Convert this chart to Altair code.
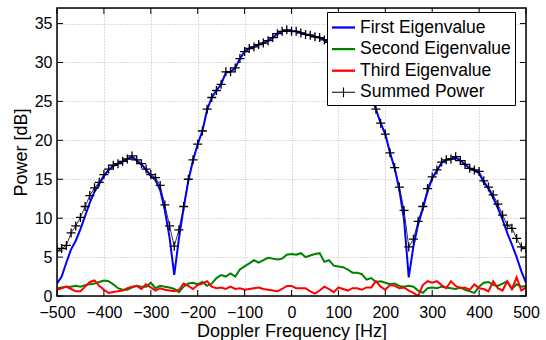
import altair as alt
import pandas as pd

# ---------------- data ----------------
freqs = list(range(-500, 501, 10))

first_eig = [
    1.6, 2.5, 4.3, 6.0, 7.1, 8.6, 10.3, 12.0, 13.4, 14.4,
    15.4, 16.2, 16.7, 17.0, 17.3, 17.6, 17.9, 17.4, 16.9, 16.2,
    15.4, 14.9, 13.6, 11.0, 7.5, 2.7, 7.4, 11.3, 14.8, 17.4,
    19.5, 21.2, 23.9, 25.5, 26.4, 27.2, 28.7, 28.8, 29.3, 30.5,
    31.4, 31.8, 32.0, 32.3, 32.5, 32.8, 33.2, 33.7, 34.0, 34.1,
    34.0, 34.0, 33.8, 33.6, 33.5, 33.3, 33.2, 32.9, 32.6, 32.3,
    32.0, 31.5, 30.7, 29.8, 28.8, 27.8, 26.8, 25.6, 24.0, 22.2,
    20.8, 18.4, 16.4, 13.6, 9.8, 2.4, 6.4, 9.2, 11.2, 13.4,
    15.1, 16.1, 17.1, 17.5, 17.6, 17.8, 17.4, 16.9, 16.4, 16.1,
    15.8, 14.6, 13.8, 12.6, 11.3, 9.8, 8.1, 6.6, 5.0, 3.2,
    1.7,
]

second_eig = [
    1.0, 1.1, 1.2, 1.2, 1.3, 1.2, 1.4, 1.5, 1.6, 1.8,
    2.0, 1.9, 1.5, 1.0, 0.8, 0.8, 1.1, 1.3, 1.2, 1.2,
    1.7, 1.0, 1.3, 1.2, 1.1, 0.9, 0.5, 1.2, 1.6, 1.7,
    1.5, 1.8, 1.3, 1.6, 2.3, 2.7, 2.5, 2.9, 2.5, 3.4,
    3.8, 4.2, 4.6, 4.3, 4.6, 4.9, 4.8, 4.7, 4.8, 5.3,
    5.4, 5.3, 5.5, 5.0, 5.2, 5.4, 5.5, 4.4, 4.6, 3.9,
    3.8, 3.7, 3.4, 3.0, 3.0, 2.8, 2.1, 2.3, 1.8, 1.9,
    1.7, 1.5, 1.6, 1.3, 1.2, 1.3, 1.2, 0.7, 0.4, 1.0,
    1.1, 1.0, 1.2, 1.1, 1.0, 0.9, 1.1, 0.8, 0.6, 0.4,
    1.2, 1.7, 1.8, 1.4, 1.3, 1.6, 1.9, 0.9, 1.5, 1.2,
    1.3,
]

third_eig = [
    0.8, 1.0, 1.2, 0.9, 0.6, 0.6, 1.2, 1.8, 2.0, 1.3,
    0.8, 0.4, 0.5, 0.6, 0.7, 1.0, 1.2, 1.3, 0.9, 1.5,
    1.1, 0.7, 1.0, 0.8, 0.7, 0.6, 0.8, 1.6, 1.3, 0.9,
    1.4, 1.6, 1.9, 1.2, 1.0, 1.1, 0.9, 1.2, 0.9, 1.0,
    0.8, 0.9, 1.0, 1.1, 0.9, 0.8, 0.7, 0.6, 0.9, 1.3,
    1.3, 1.0, 1.0, 1.0, 0.6, 0.3, 0.7, 1.2, 0.9, 0.5,
    1.1, 0.9, 0.7, 1.0, 1.0, 0.8, 1.1, 1.1, 1.9, 1.2,
    0.8, 1.4, 1.3, 1.0, 1.1, 0.7, 0.4, 0.0, 1.4, 1.9,
    1.7, 1.9, 1.4, 1.0, 1.9, 1.3, 1.0, 1.1, 0.8, 1.5,
    1.0, 0.9, 0.6, 1.9, 1.0, 0.7, 1.9, 0.9, 2.4, 0.7,
    1.1,
]

summed_power = [
    5.8, 6.1, 6.5, 8.1, 9.0, 10.1, 11.5, 12.9, 13.9, 14.6,
    15.6, 16.3, 16.8, 17.0, 17.3, 17.6, 18.0, 17.5, 17.0, 16.3,
    15.6, 15.2, 14.2, 11.7, 9.0, 6.4, 8.5, 11.5, 15.0, 17.5,
    19.5, 21.2, 24.0, 25.5, 26.4, 27.2, 28.8, 28.8, 29.3, 30.5,
    31.4, 31.8, 32.0, 32.3, 32.5, 32.8, 33.2, 33.7, 34.0, 34.2,
    34.0, 34.0, 33.8, 33.6, 33.5, 33.3, 33.2, 32.9, 32.6, 32.3,
    32.0, 31.5, 30.7, 29.8, 28.8, 27.8, 26.8, 25.6, 24.0, 22.2,
    20.8, 18.4, 16.5, 14.0, 11.0, 6.3, 7.3, 9.6, 11.5, 13.8,
    15.3, 16.2, 17.2, 17.5, 17.6, 17.9, 17.4, 16.9, 16.4, 16.2,
    16.0, 14.8, 14.0, 13.0, 11.8, 10.4, 9.1, 8.7, 7.4, 6.3,
    6.1,
]

series_names = ["First Eigenvalue", "Second Eigenvalue", "Third Eigenvalue", "Summed Power"]
series_colors = ["#0000ff", "#008000", "#ff0000", "#000000"]
# legend glyphs (filled outlines): thick bar for eigenvalues, thin bar with "+" for summed power
BAR = "M-1,-0.1L1,-0.1L1,0.1L-1,0.1Z"
PLUS_BAR = ("M-1,-0.045L-0.05,-0.045L-0.05,-0.42L0.05,-0.42L0.05,-0.045L1,-0.045"
            "L1,0.045L0.05,0.045L0.05,0.42L-0.05,0.42L-0.05,0.045L-1,0.045Z")
legend_shapes = [BAR, BAR, BAR, PLUS_BAR]
x_ticks = list(range(-500, 501, 100))
y_ticks = list(range(0, 36, 5))

# ---------------- tables ----------------
rows = []
for name, vals in zip(series_names, [first_eig, second_eig, third_eig, summed_power]):
    for f, v in zip(freqs, vals):
        rows.append({"freq": f, "series": name, "power": v})
df = pd.DataFrame(rows)

FONT = "Liberation Sans"
X0, X1, Y0, Y1 = -500, 500, 0, 37
TX = (X1 - X0) * 6 / 469.0   # 6 px inward tick length in data units
TY = (Y1 - Y0) * 6 / 288.0
xt = pd.DataFrame({"freq": x_ticks, "b0": Y0, "b1": Y0 + TY, "u0": Y1, "u1": Y1 - TY})
yt = pd.DataFrame({"power": y_ticks, "l0": X0, "l1": X0 + TX, "r0": X1, "r1": X1 - TX})
frame_df = pd.DataFrame({"fx0": [X0], "fx1": [X1], "fy0": [Y0], "fy1": [Y1]})

xscale = alt.Scale(domain=[X0, X1], nice=False, zero=False)
yscale = alt.Scale(domain=[Y0, Y1], nice=False, zero=False)
color_scale = alt.Scale(domain=series_names, range=series_colors)
shape_scale = alt.Scale(domain=series_names, range=legend_shapes)

grid_kw = dict(grid=True, gridColor="#b8b8b8", gridDash=[1, 2], gridWidth=1,
               ticks=False, domain=False, labelFont=FONT, titleFont=FONT,
               labelColor="black", titleColor="black", titleFontWeight="normal")
xaxis = alt.Axis(values=x_ticks, title="Doppler Frequency [Hz]", labelFontSize=16,
                 titleFontSize=18, labelPadding=8, titlePadding=2, labelFlush=False,
                 **grid_kw)
yaxis = alt.Axis(values=y_ticks, title="Power [dB]", labelFontSize=16,
                 titleFontSize=18, labelPadding=5, titlePadding=4, **grid_kw)

leg = alt.Legend(
    title=None, orient="none", legendX=270, legendY=4,
    fillColor="white", strokeColor="black", padding=4, rowPadding=1.6,
    labelFont=FONT, labelFontSize=17.5, labelColor="black", labelOffset=5,
    symbolSize=529, symbolStrokeWidth=0, symbolOffset=1,
)


def X(field):
    return alt.X(field, scale=xscale, axis=xaxis)


def Y(field):
    return alt.Y(field, scale=yscale, axis=yaxis)


def series_df(name):
    return df[df["series"] == name]


summed_line = alt.Chart(series_df("Summed Power")).mark_line(
    color="black", strokeWidth=0.8, clip=True
).encode(x=X("freq:Q"), y=Y("power:Q"))

eig_layers = [
    alt.Chart(series_df(n)).mark_line(color=c, strokeWidth=2, clip=True).encode(
        x=X("freq:Q"), y=Y("power:Q"))
    for n, c in zip(series_names[:3], series_colors[:3])
]

markers = alt.Chart(series_df("Summed Power")).mark_point(
    shape="M-1,0L1,0M0,-1L0,1", size=81, filled=False, color="black",
    strokeWidth=1.3, opacity=1, clip=True,
).encode(x=X("freq:Q"), y=Y("power:Q"))

legend_layer = alt.Chart(df).transform_filter("false").mark_point(
    filled=True, opacity=1, size=529, strokeWidth=0
).encode(
    x=X("freq:Q"), y=Y("power:Q"),
    color=alt.Color("series:N", scale=color_scale, legend=leg),
    shape=alt.Shape("series:N", scale=shape_scale, legend=leg),
)

tick_bottom = alt.Chart(xt).mark_rule(color="black", strokeWidth=1).encode(
    x=X("freq:Q"), y=Y("b0:Q"), y2="b1:Q")
tick_top = alt.Chart(xt).mark_rule(color="black", strokeWidth=1).encode(
    x=X("freq:Q"), y=Y("u0:Q"), y2="u1:Q")
tick_left = alt.Chart(yt).mark_rule(color="black", strokeWidth=1).encode(
    y=Y("power:Q"), x=X("l0:Q"), x2="l1:Q")
tick_right = alt.Chart(yt).mark_rule(color="black", strokeWidth=1).encode(
    y=Y("power:Q"), x=X("r0:Q"), x2="r1:Q")

frame = alt.Chart(frame_df).mark_rect(
    filled=False, fill=None, stroke="black", strokeWidth=1.5
).encode(x=X("fx0:Q"), x2="fx1:Q", y=Y("fy0:Q"), y2="fy1:Q")

chart = alt.layer(
    summed_line, *eig_layers, markers, legend_layer,
    tick_bottom, tick_top, tick_left, tick_right, frame,
).properties(
    width=469, height=288,
    autosize=alt.AutoSizeParams(type="none"),
    padding={"left": 57, "top": 8, "right": 20, "bottom": 44},
).configure_view(
    stroke=None, fill="white"
).configure(background="white")

chart.save("out.html", embed_options={"renderer": "svg", "actions": False})
